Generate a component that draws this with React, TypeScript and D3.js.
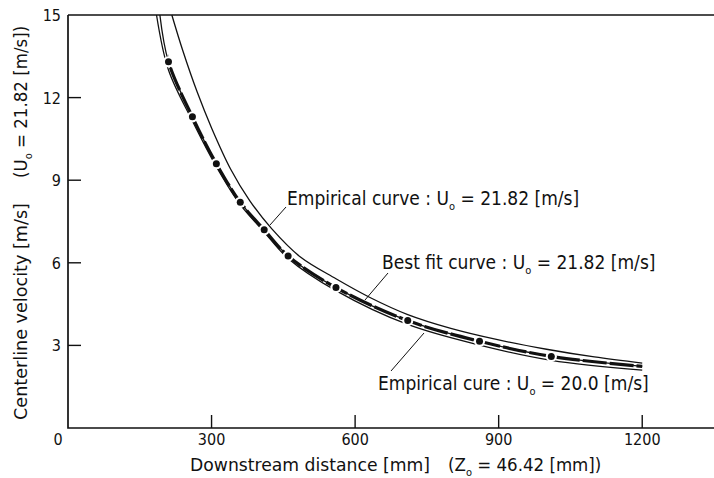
import React from 'react';
import * as d3 from 'd3';

const W = 714;
const H = 478;

// Axis ticks
const xTicks = [300, 600, 900, 1200];
const yTicks = [3, 6, 9, 12];

// Measured centerline velocities (filled dots)
const measuredX = [210, 260, 310, 360, 410, 460, 560, 710, 860, 1010];
const measuredU = [13.3, 11.3, 9.6, 8.2, 7.2, 6.25, 5.1, 3.9, 3.15, 2.6];

// Best fit curve, U0 = 21.82 m/s
const bestFitX = [192, 210, 260, 310, 360, 410, 460, 560, 710, 860, 1010, 1200];
const bestFitU = [15, 13.3, 11.3, 9.6, 8.2, 7.2, 6.25, 5.1, 3.9, 3.15, 2.6, 2.24];

// Empirical curve, U0 = 20.0 m/s
const emp20X = [185, 210, 260, 310, 360, 410, 460, 560, 710, 860, 1010, 1200];
const emp20U = [15, 13.0, 11.15, 9.49, 8.11, 7.12, 6.16, 4.99, 3.76, 3.01, 2.46, 2.1];

// Empirical curve, U0 = 21.82 m/s
const emp2182X = [217, 240, 270, 300, 340, 380, 426, 485, 560, 630, 710, 800, 900, 1000, 1100, 1200];
const emp2182U = [15, 13.7, 12.2, 10.9, 9.4, 8.25, 7.23, 6.22, 5.42, 4.75, 4.12, 3.62, 3.2, 2.86, 2.58, 2.36];

const FONT = '"DejaVu Sans Condensed", "DejaVu Sans", sans-serif';
const INK = '#111';

const x = d3.scaleLinear().domain([0, 1350]).range([68, 714]);
const y = d3.scaleLinear().domain([0, 15]).range([428, 15]);

const line = d3
  .line<[number, number]>()
  .x((d) => x(d[0]))
  .y((d) => y(d[1]))
  .curve(d3.curveCatmullRom.alpha(0.5));

const zip = (xs: number[], ys: number[]): [number, number][] => xs.map((v, i) => [v, ys[i]]);

function Label({ px, py, pre, value }: { px: number; py: number; pre: string; value: string }) {
  return (
    <text x={px} y={py} fontFamily={FONT} fontSize={19} fill={INK}>
      {pre}
      <tspan>U</tspan>
      <tspan fontSize={11} dy={5}>o</tspan>
      <tspan dy={-5}>{value}</tspan>
    </text>
  );
}

export default function App() {
  const [x0, x1] = x.range();
  const [y0, y1] = y.range();
  const bestPath = line(zip(bestFitX, bestFitU)) || '';
  const emp20Path = line(zip(emp20X, emp20U)) || '';
  const emp2182Path = line(zip(emp2182X, emp2182U)) || '';
  const pts = zip(measuredX, measuredU);

  return (
    <svg
      width={W}
      height={H}
      viewBox={`0 0 ${W} ${H}`}
      style={{ position: 'absolute', left: 0, top: 0, background: '#fff' }}
    >
      <defs>
        <clipPath id="measuredSpan">
          <rect x={x(measuredX[0])} y={0} width={W} height={H} />
        </clipPath>
      </defs>
      <rect width={W} height={H} fill="#fff" />

      {/* frame */}
      <g stroke={INK} strokeWidth={1.7} fill="none">
        <path d={`M${x0},${y1}V${y0}H${x1}`} />
        <path d={`M${x0},${y1}H${x1}`} />
      </g>

      {/* ticks */}
      <g stroke={INK} strokeWidth={1.4}>
        {yTicks.map((t) => (
          <line key={`yt${t}`} x1={x0} x2={x0 + 13} y1={y(t)} y2={y(t)} />
        ))}
        {xTicks.map((t) => (
          <line key={`xt${t}`} x1={x(t)} x2={x(t)} y1={y0} y2={y0 - 13} />
        ))}
      </g>

      {/* tick labels */}
      <g fontFamily={FONT} fontSize={16} fill={INK}>
        {[...yTicks, 15].map((t) => (
          <text key={`yl${t}`} x={61} y={y(t) + 6} textAnchor="end">
            {t}
          </text>
        ))}
        {xTicks.map((t) => (
          <text key={`xl${t}`} x={x(t)} y={445} textAnchor="middle">
            {t}
          </text>
        ))}
        <text x={58} y={445} textAnchor="middle">
          0
        </text>
      </g>

      {/* curves */}
      <g fill="none" stroke={INK}>
        <path d={bestPath} strokeWidth={1.3} />
        <path d={emp20Path} strokeWidth={1.3} />
        <path d={bestPath} strokeWidth={3.2} strokeDasharray="24 3" clipPath="url(#measuredSpan)" />
      </g>

      {/* measured points */}
      <g>
        {pts.map((p, i) => (
          <circle key={`h${i}`} cx={x(p[0])} cy={y(p[1])} r={5.6} fill="#fff" />
        ))}
        {pts.map((p, i) => (
          <circle key={`d${i}`} cx={x(p[0])} cy={y(p[1])} r={3.5} fill={INK} />
        ))}
      </g>

      <path d={emp2182Path} fill="none" stroke={INK} strokeWidth={1.3} />

      {/* annotation leaders */}
      <g stroke={INK} strokeWidth={1}>
        <line x1={286} y1={207} x2={270} y2={225} />
        <line x1={388} y1={273} x2={365} y2={300} />
        <line x1={424} y1={333} x2={391} y2={371} />
      </g>

      <Label px={287} py={205} pre="Empirical curve : " value=" = 21.82 [m/s]" />
      <Label px={382} py={269} pre="Best fit curve : " value=" = 21.82 [m/s]" />
      <Label px={378} py={390} pre="Empirical cure : " value=" = 20.0 [m/s]" />

      {/* axis titles */}
      <g fontFamily={FONT} fontSize={18.5} fill={INK}>
        <text x={190} y={471} textLength={240} lengthAdjust="spacingAndGlyphs">
          Downstream distance [mm]
        </text>
        <text x={448} y={471}>
          (Z<tspan fontSize={11} dy={5}>o</tspan>
          <tspan dy={-5}> = 46.42 [mm])</tspan>
        </text>
        <text
          transform="translate(26.5,420) rotate(-90)"
          textLength={217}
          lengthAdjust="spacingAndGlyphs"
        >
          Centerline velocity [m/s]
        </text>
        <text transform="translate(26.5,178) rotate(-90)">
          (U<tspan fontSize={11} dy={5}>o</tspan>
          <tspan dy={-5}> = 21.82 [m/s])</tspan>
        </text>
      </g>
    </svg>
  );
}
